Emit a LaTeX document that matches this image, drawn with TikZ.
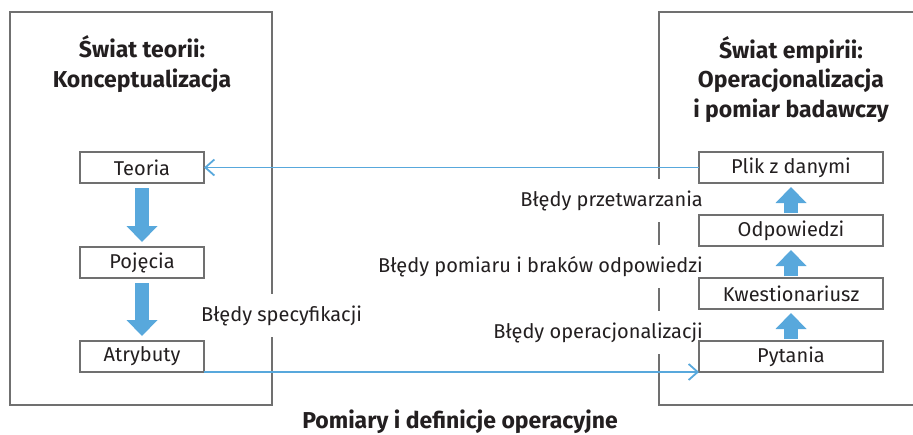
\documentclass[tikz,border=0pt]{standalone}
\usepackage{fontspec}
\setmainfont{Fira Sans}
\usetikzlibrary{arrows.meta, positioning}

\definecolor{linkblue}{HTML}{58A8DC}
\definecolor{framegray}{HTML}{707070}
\definecolor{textdark}{HTML}{231F20}

\tikzset{
  stagebox/.style={draw=framegray, line width=1.6pt, fill=white, minimum height=31pt, inner sep=0pt, outer sep=0pt, text=textdark},
  theorybox/.style={stagebox, minimum width=124pt},
  empiricbox/.style={stagebox, minimum width=184pt},
  worldframe/.style={draw=framegray, line width=1.6pt},
  errlabel/.style={fill=white, text=textdark, inner xsep=4pt, inner ysep=11pt},
  worldtitle/.style={align=center, text=textdark, font=\fontsize{23}{29.5}\selectfont\bfseries},
  bigarrow/.style={draw=linkblue, line width=14pt, -{Triangle[width=31pt, length=16pt, line width=0pt]}, shorten <=4pt, shorten >=4pt},
  link/.style={draw=linkblue, line width=1.8pt, -{Straight Barb[length=9pt, width=16pt]}},
}

\begin{document}
\begin{tikzpicture}[x=1pt, y=-1pt, font=\fontsize{20}{24}\selectfont]
    \useasboundingbox (0,0) rectangle (913,434);

    % Two worlds
    \draw[worldframe] (10,12) rectangle (272,405);
    \draw[worldframe] (913,12) -- (659,12) -- (659,405) -- (913,405);

    \node[worldtitle, anchor=base] (theorytitle) at (142,87) {Świat teorii:\\Konceptualizacja};
    \node[worldtitle, anchor=base] (empirictitle) at (791,117) {Świat empirii:\\Operacjonalizacja\\i pomiar badawczy};
    \node[worldtitle, anchor=base] (bottomtitle) at (460,428) {Pomiary i definicje operacyjne};

    % Error labels (white, cut the frames)
    \node[errlabel, anchor=base east] (errproc) at (707,206) {Błędy przetwarzania};
    \node[errlabel, anchor=base east] (errmeas) at (707,272) {Błędy pomiaru i braków odpowiedzi};
    \node[errlabel, anchor=base east] (errop) at (707,338) {Błędy operacjonalizacji};
    \node[errlabel, anchor=base west] (errspec) at (197,321) {Błędy specyfikacji};

    % Theory side
    \node[theorybox] (teoria) at (142,167.5) {Teoria};
    \node[theorybox, below=64pt of teoria] (pojecia) {Pojęcia};
    \node[theorybox, below=63pt of pojecia] (atrybuty) {Atrybuty};

    % Empirical side
    \node[empiricbox] (plik) at (791,167.5) {Plik z danymi};
    \node[empiricbox, below=32pt of plik] (odpowiedzi) {Odpowiedzi};
    \node[empiricbox, below=32pt of odpowiedzi] (kwestionariusz) {Kwestionariusz};
    \node[empiricbox, below=32pt of kwestionariusz] (pytania) {Pytania};

    \draw[bigarrow, shorten <=5pt, shorten >=5pt] (teoria.south) -- (pojecia.north);
    \draw[bigarrow, shorten <=5pt, shorten >=5pt] (pojecia.south) -- (atrybuty.north);
    \draw[bigarrow, shorten <=2pt] (pytania.north) -- (kwestionariusz.south);
    \draw[bigarrow, shorten <=2pt] (kwestionariusz.north) -- (odpowiedzi.south);
    \draw[bigarrow, shorten <=2pt] (odpowiedzi.north) -- (plik.south);

    \draw[link] (plik.west) -- (teoria.east);
    \draw[link] (atrybuty.south east) -- (pytania.south west);
\end{tikzpicture}
\end{document}
